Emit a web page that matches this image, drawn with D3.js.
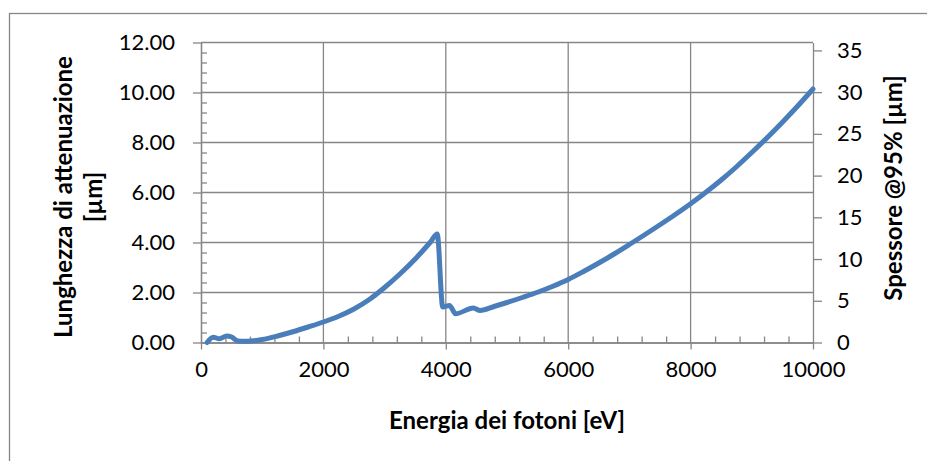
<!DOCTYPE html>
<html>
<head>
<meta charset="utf-8">
<script src="https://cdn.jsdelivr.net/npm/d3@7"></script>
<style>
  html, body { margin: 0; padding: 0; background: #ffffff; }
  #chart { width: 927px; height: 461px; }
  text { font-family: Lato, "Open Sans", sans-serif; fill: #000000; }
</style>
</head>
<body>
<div id="chart"></div>
<script>
// values
const energy = [100, 200, 300, 420, 500, 600, 750, 1000, 1250, 1500, 1750, 2000, 2250, 2500, 2750,
  3000, 3250, 3500, 3750, 3860, 3950, 4060, 4160, 4450, 4560, 4800, 5000, 5250, 5500, 5750,
  6000, 6250, 6500, 6750, 7000, 7250, 7500, 7750, 8000, 8250, 8500, 8750, 9000, 9250, 9500,
  9750, 10000];
const attLength = [0.00, 0.21, 0.15, 0.26, 0.22, 0.06, 0.05, 0.12, 0.26, 0.43, 0.62, 0.82, 1.05, 1.34, 1.72,
  2.20, 2.74, 3.34, 4.02, 4.34, 1.42, 1.48, 1.15, 1.38, 1.28, 1.45, 1.60, 1.80, 2.01, 2.25,
  2.52, 2.84, 3.18, 3.54, 3.92, 4.31, 4.71, 5.12, 5.55, 6.01, 6.50, 7.03, 7.60, 8.19, 8.81,
  9.46, 10.14];
const xTicks = [0, 2000, 4000, 6000, 8000, 10000];
const yLeftTicks = [0, 2, 4, 6, 8, 10, 12];
const yRightTicks = [0, 5, 10, 15, 20, 25, 30, 35];
const rightMax = 35.95;

const xLabel = 'Energia dei fotoni [eV]';
const yLeftLabel = ['Lunghezza di attenuazione', '[µm]'];
const yRightLabel = 'Spessore @95% [µm]';

const W = 927, H = 461;
const margin = {top: 42.5, right: 114, bottom: 118.5, left: 201};
const width = W - margin.left - margin.right;
const height = H - margin.top - margin.bottom;
const gridCol = '#868686';
const lineCol = '#4a7ebb';

const root = d3.select('#chart').append('svg')
  .attr('width', W)
  .attr('height', H);

// outer chart frame
root.append('rect')
  .attr('x', 9.5)
  .attr('y', 13.5)
  .attr('width', W + 20)
  .attr('height', H + 20)
  .attr('fill', 'none')
  .attr('stroke', gridCol)
  .attr('stroke-width', 1.3);

const svg = root.append('g')
  .attr('transform', 'translate(' + margin.left + ',' + margin.top + ')');

const x = d3.scaleLinear().domain([0, 10000]).range([0, width]);
const y = d3.scaleLinear().domain([0, 12]).range([height, 0]);
const y2 = d3.scaleLinear().domain([0, rightMax]).range([height, 0]);

// gridlines
svg.append('g')
  .selectAll('line')
  .data(yLeftTicks.slice(1))
  .enter()
  .append('line')
  .attr('x1', 0)
  .attr('x2', width)
  .attr('y1', d => y(d))
  .attr('y2', d => y(d))
  .attr('stroke', gridCol)
  .attr('stroke-width', 1.3);
svg.append('g')
  .selectAll('line')
  .data(xTicks.slice(1, -1))
  .enter()
  .append('line')
  .attr('x1', d => x(d))
  .attr('x2', d => x(d))
  .attr('y1', 0)
  .attr('y2', height)
  .attr('stroke', gridCol)
  .attr('stroke-width', 1.3);

const styleAxis = g => {
  g.selectAll('path, line').attr('stroke', gridCol).attr('stroke-width', 1.3);
  g.selectAll('text')
    .style('font-size', '22px')
    .attr('fill', '#000000');
};

// x axis
const xMinor = d3.range(0, 10001, 400).filter(d => d % 2000 !== 0);
svg.append('g')
  .attr('transform', 'translate(0,' + height + ')')
  .call(d3.axisBottom(x).tickValues(xMinor).tickSize(-6).tickSizeOuter(0).tickFormat(''))
  .call(styleAxis);
svg.append('g')
  .attr('transform', 'translate(0,' + height + ')')
  .call(d3.axisBottom(x).tickValues(xTicks).tickSize(7).tickSizeOuter(0).tickPadding(12).tickFormat(d3.format('d')))
  .call(styleAxis);

// left axis
const yMinor = d3.range(0, 12.01, 0.4).filter(d => Math.abs(d / 2 - Math.round(d / 2)) > 0.01);
svg.append('g')
  .call(d3.axisLeft(y).tickValues(yMinor).tickSize(-6).tickSizeOuter(0).tickFormat(''))
  .call(styleAxis);
svg.append('g')
  .call(d3.axisLeft(y).tickValues(yLeftTicks).tickSize(8).tickSizeOuter(0).tickPadding(18).tickFormat(d3.format('.2f')))
  .call(styleAxis);

// right axis
svg.append('g')
  .attr('transform', 'translate(' + width + ',0)')
  .call(d3.axisRight(y2).tickValues(yRightTicks).tickSize(9).tickSizeOuter(0).tickPadding(15))
  .call(styleAxis);

// data line
const line = d3.line()
  .x((d, i) => x(energy[i]))
  .y(d => y(d))
  .curve(d3.curveMonotoneX);
svg.append('path')
  .datum(attLength)
  .attr('d', line)
  .attr('fill', 'none')
  .attr('stroke', lineCol)
  .attr('stroke-width', 5)
  .attr('stroke-linejoin', 'round')
  .attr('stroke-linecap', 'round');

// axis titles
root.append('text')
  .attr('x', margin.left + width / 2)
  .attr('y', 419)
  .attr('text-anchor', 'middle')
  .attr('dominant-baseline', 'central')
  .style('font-size', '24px')
  .style('font-weight', 'bold')
  .text(xLabel);

yLeftLabel.forEach((t, i) => {
  root.append('text')
    .attr('transform', 'translate(' + (62 + i * 30) + ',197) rotate(-90)')
    .attr('text-anchor', 'middle')
    .attr('dominant-baseline', 'central')
    .style('font-size', '24px')
    .style('font-weight', 'bold')
    .text(t);
});

root.append('text')
  .attr('transform', 'translate(892,188) rotate(-90)')
  .attr('text-anchor', 'middle')
  .attr('dominant-baseline', 'central')
  .style('font-size', '24px')
  .style('font-weight', 'bold')
  .text(yRightLabel);
</script>
</body>
</html>
